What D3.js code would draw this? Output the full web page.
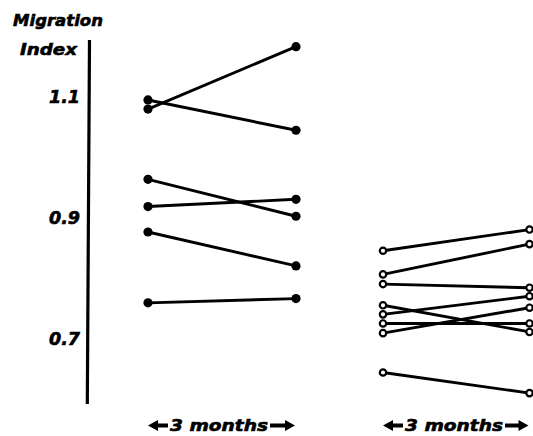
<!DOCTYPE html>
<html><head><meta charset="utf-8">
<script src="https://cdn.jsdelivr.net/npm/d3@7"></script>
<style>
html,body{margin:0;padding:0;background:#fff;}
text{font-family:"DejaVu Sans",sans-serif;font-weight:bold;font-style:italic;fill:#000;stroke:#000;stroke-width:0.6px;}
</style></head>
<body>
<svg id="chart" width="533" height="436"></svg>
<script>
// Data
const yTicks = [0.7, 0.9, 1.1];
const groupLabels = ["3 months", "3 months"];
// Group 1 (filled circles): before / after
const filledBefore = [1.095, 1.080, 0.964, 0.919, 0.877, 0.760];
const filledAfter  = [1.045, 1.183, 0.903, 0.931, 0.821, 0.767];
// Group 2 (open circles): before / after
const openBefore = [0.846, 0.807, 0.791, 0.756, 0.741, 0.726, 0.710, 0.645];
const openAfter  = [0.881, 0.857, 0.785, 0.712, 0.771, 0.726, 0.752, 0.611];
const times = [0, 3];

const svg = d3.select("#chart");
const y = d3.scaleLinear().domain([0.593, 1.194]).range([404, 40]);
const xA = d3.scaleLinear().domain([0, 3]).range([148, 296]);
const xB = d3.scaleLinear().domain([0, 3]).range([383, 529.5]);

// Axis line (slightly tilted as in the scan)
svg.append("line")
  .attr("x1", 89.5).attr("y1", y(1.194))
  .attr("x2", 87.3).attr("y2", y(0.593))
  .attr("stroke", "#000").attr("stroke-width", 3.2);

// tick labels
svg.selectAll("text.tick").data(yTicks).join("text")
  .attr("class", "tick")
  .attr("x", 80).attr("y", d => y(d))
  .attr("dy", "0.36em")
  .attr("text-anchor", "end")
  .style("font-size", "17.5px")
  .text(d => d3.format(".1f")(d));

// title
svg.append("text").attr("x", 13).attr("y", 26)
  .attr("textLength", 90).attr("lengthAdjust", "spacingAndGlyphs")
  .style("font-size", "16.5px").text("Migration");
svg.append("text").attr("x", 20).attr("y", 55)
  .attr("textLength", 57).attr("lengthAdjust", "spacingAndGlyphs")
  .style("font-size", "16.5px").text("Index");

function drawGroup(x, before, after, filled) {
  const pairs = before.map((b, i) => [b, after[i]]);
  const line = d3.line().x((d, i) => x(times[i])).y(d => y(d));
  const g = svg.append("g");
  g.selectAll("path").data(pairs).join("path")
    .attr("d", line)
    .attr("fill", "none").attr("stroke", "#000").attr("stroke-width", 2.9);
  const pts = [];
  pairs.forEach(p => { pts.push([times[0], p[0]]); pts.push([times[1], p[1]]); });
  g.selectAll("circle").data(pts).join("circle")
    .attr("cx", d => x(d[0])).attr("cy", d => y(d[1]))
    .attr("r", filled ? 4.6 : 3.2)
    .attr("fill", filled ? "#000" : "#fff")
    .attr("stroke", "#000").attr("stroke-width", filled ? 0 : 2.2);
}
drawGroup(xA, filledBefore, filledAfter, true);
drawGroup(xB, openBefore, openAfter, false);

// bottom labels with bold arrows
function arrow(g, x0, x1, dir) {
  const cy = 425.5, head = 10, hh = 5.6, sh = 2;
  let pts;
  if (dir < 0) {
    pts = [[x0, cy], [x0 + head, cy - hh], [x0 + head, cy - sh], [x1, cy - sh], [x1, cy + sh], [x0 + head, cy + sh], [x0 + head, cy + hh]];
  } else {
    pts = [[x1, cy], [x1 - head, cy - hh], [x1 - head, cy - sh], [x0, cy - sh], [x0, cy + sh], [x1 - head, cy + sh], [x1 - head, cy + hh]];
  }
  g.append("path").attr("d", "M" + pts.join("L") + "Z").attr("fill", "#000");
}
const labelX = [xA, xB];
labelX.forEach((x, i) => {
  const g = svg.append("g");
  const left = x(0), right = x(3);
  arrow(g, left, left + 20, -1);
  g.append("text").attr("x", left + 22).attr("y", 431)
    .attr("textLength", 98).attr("lengthAdjust", "spacingAndGlyphs")
    .style("font-size", "16px").text(groupLabels[i]);
  arrow(g, left + 122, right - 1, 1);
});
</script>
</body></html>
